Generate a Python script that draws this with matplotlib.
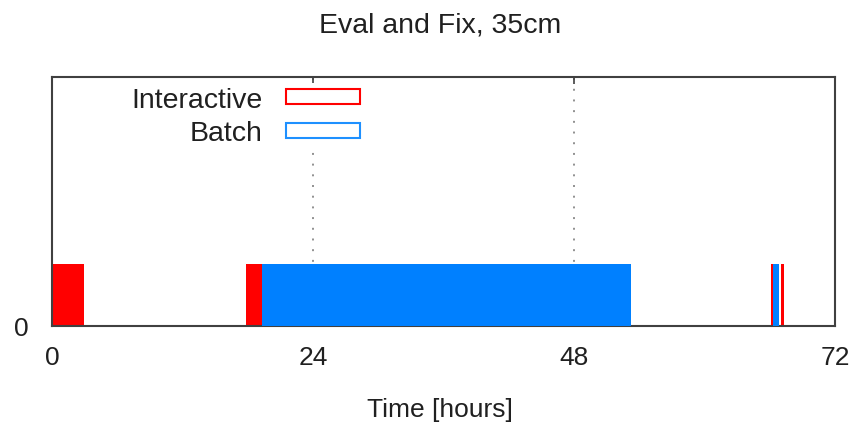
import matplotlib
matplotlib.use('Agg')
import matplotlib.pyplot as plt
from matplotlib.patches import Patch

plt.rcParams['font.family'] = ['Liberation Sans', 'DejaVu Sans']

# busy intervals in hours
interactive_start = [0.0, 17.85, 66.1, 67.0]
interactive_end = [2.95, 19.35, 66.33, 67.3]
batch_start = [19.35, 66.33]
batch_end = [53.25, 66.85]
level = 0.25

xticks = [0, 24, 48, 72]
red = '#ff0000'
blue = '#0080ff'
axis_col = '#404040'

fig = plt.figure(figsize=(8.53, 4.27), dpi=100)
ax = fig.add_axes([52 / 853, 100 / 427, 783 / 853, 249 / 427])

ax.bar(interactive_start, level,
       width=[e - s for s, e in zip(interactive_start, interactive_end)],
       align='edge', color=red, linewidth=0, zorder=2)
ax.bar(batch_start, level,
       width=[e - s for s, e in zip(batch_start, batch_end)],
       align='edge', color=blue, linewidth=0, zorder=3)

ax.set_xlim(0, 72)
ax.set_ylim(0, 1)
ax.set_xticks(xticks)
ax.set_yticks([0])
ax.tick_params(direction='in', length=5, width=1.2, colors=axis_col,
               labelcolor='#202020', labelsize=19, top=True, right=False)
ax.tick_params(axis='x', pad=14)
ax.tick_params(axis='y', pad=17, length=0)
for sp in ax.spines.values():
    sp.set_color(axis_col)
    sp.set_linewidth(1.5)

ax.xaxis.grid(True, color='#909090', linewidth=1.4, linestyle=(0, (1, 4.5)))
ax.set_axisbelow(True)

handles = [Patch(facecolor='white', edgecolor=red, linewidth=1.5, label='Interactive'),
           Patch(facecolor='white', edgecolor='#1e90ff', linewidth=1.5, label='Batch')]
leg = ax.legend(handles=handles, loc='upper left', bbox_to_anchor=(0.078, 1.035),
                markerfirst=False, fontsize=20.5, handlelength=2.6, handleheight=0.42,
                handletextpad=0.8, labelspacing=0.27, frameon=True, fancybox=False,
                framealpha=1, borderpad=0.15)
leg.set_zorder(5)
leg.get_frame().set_edgecolor('none')
leg.get_frame().set_facecolor('white')
for t in leg.get_texts():
    t.set_ha('right')
    t.set_color('#202020')

fig.text(440 / 853, 1 - 25 / 427, 'Eval and Fix, 35cm', ha='center', va='center',
         fontsize=20.5, color='#202020')
fig.text(440 / 853, 1 - 410 / 427, 'Time [hours]', ha='center', va='center',
         fontsize=19, color='#202020')

fig.savefig('out.png', dpi=100)
